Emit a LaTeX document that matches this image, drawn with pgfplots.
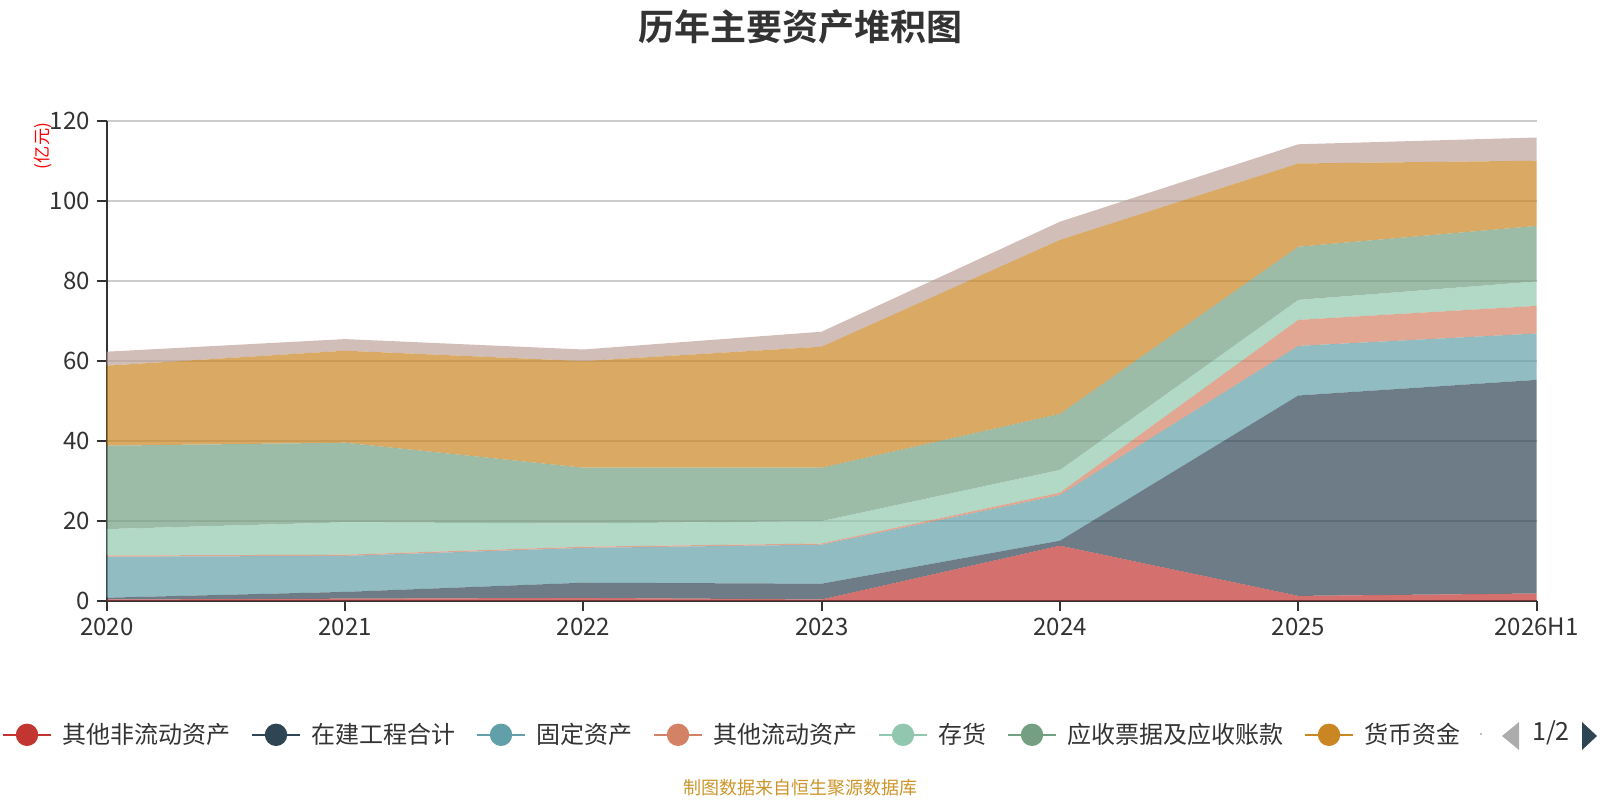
\documentclass[border=0pt]{standalone}
\usepackage{fontspec}
\setmainfont{Noto Sans CJK SC}[BoldFont={Noto Sans CJK SC Bold}]
\usepackage{pgfplots}
\pgfplotsset{compat=1.18}
\definecolor{c1}{HTML}{C23531}
\definecolor{c2}{HTML}{2F4554}
\definecolor{c3}{HTML}{61A0A8}
\definecolor{c4}{HTML}{D48265}
\definecolor{c5}{HTML}{91C7AE}
\definecolor{c6}{HTML}{749F83}
\definecolor{c7}{HTML}{CA8622}
\definecolor{c8}{HTML}{BDA29A}
\definecolor{txt}{HTML}{333333}
\definecolor{gridc}{HTML}{CCCCCC}
\definecolor{footc}{HTML}{CC952A}
\pgfplotsset{lg/.style={legend image code/.code={%
  \draw[#1, line width=1bp, opacity=1] (0bp,0bp) -- (24bp,0bp);
  \fill[#1, opacity=1] (12bp,0bp) circle (5.6bp);}}}
\begin{document}
\begin{tikzpicture}
\path[use as bounding box] (0bp,0bp) rectangle (800bp,400bp);
\begin{axis}[
  at={(53.35bp,99.65bp)}, anchor=south west,
  scale only axis, width=715bp, height=240bp,
  xmin=0, xmax=6, ymin=0, ymax=120,
  stack plots=y,
  axis lines=left, axis line style={-, color=txt, line width=1bp},
  xtick={0,...,6}, xticklabels={2020,2021,2022,2023,2024,2025,2026H1},
  ytick={0,20,...,120},
  ymajorgrids, grid style={color=gridc, line width=0.9bp},
  tick style={color=txt, line width=1bp},
  tick align=outside, major tick length=5bp,
  ticklabel style={font=\fontsize{12bp}{14bp}\selectfont, text=txt},
  /pgf/number format/assume math mode=true,
  legend columns=-1,
  legend cell align=left,
  legend style={at={(-0.0732,-0.2794)}, anchor=west, draw=none, fill=none,
    inner sep=0pt, outer sep=0pt,
    font=\fontsize{12bp}{14bp}\selectfont, text=txt,
    nodes={inner sep=0pt},
    /tikz/every odd column/.append style={column sep=5bp},
    /tikz/every even column/.append style={column sep=10.5bp}},
]
\addplot[fill=c1, fill opacity=0.7, draw=none, lg=c1] coordinates {(0,0.3)(1,0.5)(2,0.7)(3,0.3)(4,13.75)(5,1.2)(6,1.8)} \closedcycle;
\addlegendentry{其他非流动资产}
\addplot[fill=c2, fill opacity=0.7, draw=none, lg=c2] coordinates {(0,0.45)(1,1.7)(2,3.8)(3,3.95)(4,1.25)(5,50.1)(6,53.4)} \closedcycle;
\addlegendentry{在建工程合计}
\addplot[fill=c3, fill opacity=0.7, draw=none, lg=c3] coordinates {(0,10.25)(1,9.0)(2,8.7)(3,9.75)(4,11.4)(5,12.4)(6,11.6)} \closedcycle;
\addlegendentry{固定资产}
\addplot[fill=c4, fill opacity=0.7, draw=none, lg=c4] coordinates {(0,0.3)(1,0.3)(2,0.3)(3,0.3)(4,0.6)(5,6.5)(6,6.9)} \closedcycle;
\addlegendentry{其他流动资产}
\addplot[fill=c5, fill opacity=0.7, draw=none, lg=c5] coordinates {(0,6.6)(1,8.1)(2,5.8)(3,5.6)(4,5.7)(5,5.0)(6,6.1)} \closedcycle;
\addlegendentry{存货}
\addplot[fill=c6, fill opacity=0.7, draw=none, lg=c6] coordinates {(0,20.85)(1,19.9)(2,13.95)(3,13.35)(4,14.0)(5,13.3)(6,13.9)} \closedcycle;
\addlegendentry{应收票据及应收账款}
\addplot[fill=c7, fill opacity=0.7, draw=none, lg=c7] coordinates {(0,20.0)(1,23.0)(2,26.65)(3,30.25)(4,43.5)(5,20.8)(6,16.3)} \closedcycle;
\addlegendentry{货币资金}
\addplot[fill=c8, fill opacity=0.7, draw=none] coordinates {(0,3.5)(1,2.9)(2,2.9)(3,3.75)(4,4.55)(5,4.8)(6,5.8)} \closedcycle;
\end{axis}
\node[font=\fontsize{18bp}{20bp}\selectfont\bfseries, text=txt] at (400bp,386.7bp) {历年主要资产堆积图};
\node[rotate=90, font=\fontsize{8.6bp}{9.5bp}\selectfont, text=red] at (21.5bp,327bp) {(亿元)};
\node[font=\fontsize{9bp}{10bp}\selectfont, text=footc] at (400bp,6.3bp) {制图数据来自恒生聚源数据库};
\fill[c8] (740.5bp,33bp) circle (0.6bp);
\fill[gray!65] (751bp,32bp) -- (759.5bp,39bp) -- (759.5bp,25bp) -- cycle;
\node[font=\fontsize{12.5bp}{14bp}\selectfont, text=txt] at (775.5bp,33.6bp) {1/2};
\fill[c2] (798.5bp,32bp) -- (791bp,39bp) -- (791bp,25bp) -- cycle;
\end{tikzpicture}
\end{document}
